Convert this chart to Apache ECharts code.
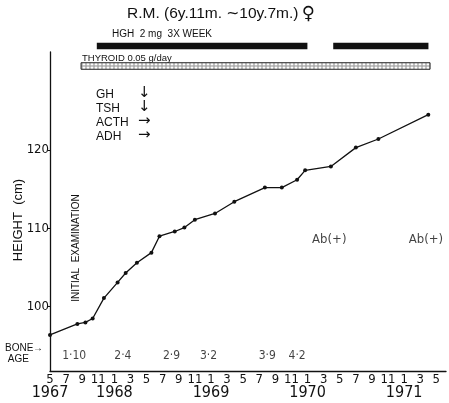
<!DOCTYPE html>
<html>
<head>
<meta charset="utf-8">
<script src="https://cdn.jsdelivr.net/npm/echarts@6/dist/echarts.min.js"></script>
<style>html,body{margin:0;padding:0;background:#fff}#c{width:449px;height:403px}</style>
</head>
<body>
<div id="c"></div>
<script>
// months counted from May 1967 (0) to May 1971 (48)
const months  = [0, 3.4, 4.4, 5.3, 6.7, 8.4, 9.4, 10.8, 12.6, 13.6, 15.5, 16.7, 18.0, 20.5, 22.9, 26.7, 28.8, 30.7, 31.7, 34.9, 38.0, 40.8, 47.0];
const heights = [96.4, 97.8, 98.0, 98.5, 101.1, 103.1, 104.3, 105.6, 106.9, 109.0, 109.6, 110.1, 111.1, 111.9, 113.4, 115.2, 115.2, 116.2, 117.4, 117.9, 120.3, 121.4, 124.5];
const boneAgeMonths = [3.0, 9.05, 15.1, 19.7, 27.0, 30.7];
const boneAgeLabels = ['1·10', '2·4', '2·9', '3·2', '3·9', '4·2'];
const abMonths = [34.7, 46.7];
const abLabels = ['Ab(+)', 'Ab(+)'];
const hghPeriods = [[5.8, 31.9], [35.1, 46.9]];
const thyroidPeriods = [[3.85, 47.1]];
const monthTickLabels = ['5','7','9','11','1','3','5','7','9','11','1','3','5','7','9','11','1','3','5','7','9','11','1','3','5'];
const yearTickValues = [0, 8, 20, 32, 44];
const yearLabels = ['1967', '1968', '1969', '1970', '1971'];
const yTickValues = [100, 110, 120];
const hormones = ['GH', 'TSH', 'ACTH', 'ADH'];
const hormoneArrows = ['↓', '↓', '→', '→'];

const NARROW = "'Liberation Sans Narrow', 'DejaVu Sans Condensed', 'Liberation Sans', sans-serif";
const SANS = "'Liberation Sans', 'DejaVu Sans', sans-serif";

// dotted pattern for thyroid bar
const pat = document.createElement('canvas');
pat.width = 4; pat.height = 4;
const pc = pat.getContext('2d');
pc.fillStyle = '#fff'; pc.fillRect(0, 0, 4, 4);
pc.strokeStyle = '#888'; pc.lineWidth = 1;
pc.beginPath(); pc.arc(2, 2, 1.2, 0, Math.PI * 2); pc.stroke();

const chart = echarts.init(document.getElementById('c'), null, {renderer: 'canvas'});

const graphicTexts = [
  {type: 'text', left: 127, top: 5, style: {
    text: '{a|R.M. (6y.11m. ∼10y.7m.)} {b|♀}',
    rich: {a: {font: '15.5px ' + SANS, fill: '#111'}, b: {font: '18px "DejaVu Sans"', fill: '#111'}}
  }},
  {type: 'text', left: 112, top: 29, style: {text: 'HGH  2 mg  3X WEEK', font: '10px ' + SANS, fill: '#111'}},
  {type: 'text', left: 82, top: 53, style: {text: 'THYROID 0.05 g/day', font: '9.5px ' + SANS, fill: '#111'}},
  {type: 'text', left: 5, top: 343, style: {text: 'BONE\n AGE', font: '10px ' + SANS, fill: '#111', lineHeight: 11}},
  {type: 'text', left: 33, top: 343, style: {text: '→', font: '10px ' + SANS, fill: '#111'}},
  {type: 'text', x: 76, y: 248, rotation: Math.PI / 2, style: {text: 'INITIAL  EXAMINATION', font: '10px ' + SANS, fill: '#111', align: 'center', verticalAlign: 'middle'}},
  {type: 'text', x: 18, y: 220, rotation: Math.PI / 2, style: {text: 'HEIGHT  (cm)', font: '13px ' + SANS, fill: '#111', align: 'center', verticalAlign: 'middle'}}
];
hormones.forEach((h, i) => {
  graphicTexts.push({type: 'text', left: 96, top: 89 + i * 14, style: {text: h, font: '12px ' + SANS, fill: '#111'}});
  graphicTexts.push({type: 'text', left: 138, top: 86 + i * 14, style: {text: hormoneArrows[i], font: '15px "DejaVu Sans"', fill: '#111'}});
});

const barData = [];
hghPeriods.forEach(p => barData.push([p[0], p[1], 0]));
thyroidPeriods.forEach(p => barData.push([p[0], p[1], 1]));

chart.setOption({
  animation: false,
  backgroundColor: '#fff',
  graphic: graphicTexts,
  grid: [
    {left: 50, width: 397, top: 52, bottom: 32},
    {left: 50, width: 397, top: 36, height: 40}
  ],
  xAxis: [
    {
      type: 'value', min: 0, max: 49.2, interval: 2, gridIndex: 0,
      splitLine: {show: false},
      axisTick: {show: false},
      axisLine: {lineStyle: {color: '#111', width: 1.3}},
      axisLabel: {
        margin: 2, color: '#111', showMinLabel: true, fontSize: 13, fontFamily: NARROW,
        formatter: function (v) {
          if (Math.abs(v - Math.round(v)) > 1e-6 || Math.round(v) % 2 !== 0) return '';
          const idx = Math.round(v) / 2;
          return idx < monthTickLabels.length ? monthTickLabels[idx] : '';
        }
      }
    },
    {type: 'value', min: 0, max: 49.2, gridIndex: 1, show: false},
    {
      type: 'value', min: 0, max: 49.2, gridIndex: 0, position: 'bottom', offset: 13,
      splitLine: {show: false}, axisTick: {show: false}, axisLine: {show: false},
      axisLabel: {
        customValues: yearTickValues, showMinLabel: true, margin: 1, color: '#111', fontSize: 16, fontFamily: NARROW,
        formatter: function (v) { const i = yearTickValues.indexOf(Math.round(v)); return i >= 0 ? yearLabels[i] : ''; }
      }
    }
  ],
  yAxis: [
    {
      type: 'value', min: 91.8, max: 132.5, gridIndex: 0,
      splitLine: {show: false},
      axisLine: {show: true, lineStyle: {color: '#111', width: 1.3}},
      axisTick: {show: true, length: 2, customValues: yTickValues, lineStyle: {color: '#111'}},
      axisLabel: {margin: 1, customValues: yTickValues, color: '#111', fontSize: 13, fontFamily: NARROW}
    },
    {type: 'category', data: ['HGH', 'THYROID'], inverse: true, gridIndex: 1, show: false}
  ],
  series: [
    {
      type: 'line', xAxisIndex: 0, yAxisIndex: 0,
      data: months.map((m, i) => [m, heights[i]]),
      symbol: 'circle', symbolSize: 4,
      lineStyle: {color: '#111', width: 1.3},
      itemStyle: {color: '#111'}
    },
    {
      type: 'scatter', xAxisIndex: 0, yAxisIndex: 0, symbolSize: 0,
      data: boneAgeMonths.map((m, i) => ({value: [m, 93.76], label: {formatter: boneAgeLabels[i]}})),
      label: {show: true, position: 'inside', color: '#111', fontSize: 12, fontFamily: NARROW}
    },
    {
      type: 'scatter', xAxisIndex: 0, yAxisIndex: 0, symbolSize: 0,
      data: abMonths.map((m, i) => ({value: [m, 108.5], label: {formatter: abLabels[i]}})),
      label: {show: true, position: 'inside', color: '#111', fontSize: 13, fontFamily: NARROW}
    },
    {
      type: 'custom', xAxisIndex: 1, yAxisIndex: 1,
      data: barData,
      renderItem: function (params, api) {
        const row = api.value(2);
        const s = api.coord([api.value(0), row]);
        const e = api.coord([api.value(1), row]);
        const h = 6.5;
        return {
          type: 'rect',
          shape: {x: s[0], y: s[1] - h / 2, width: e[0] - s[0], height: h},
          style: row === 0 ? {fill: '#111'} : {fill: {image: pat, repeat: 'repeat'}, stroke: '#222', lineWidth: 1}
        };
      }
    }
  ]
});
</script>
</body>
</html>
